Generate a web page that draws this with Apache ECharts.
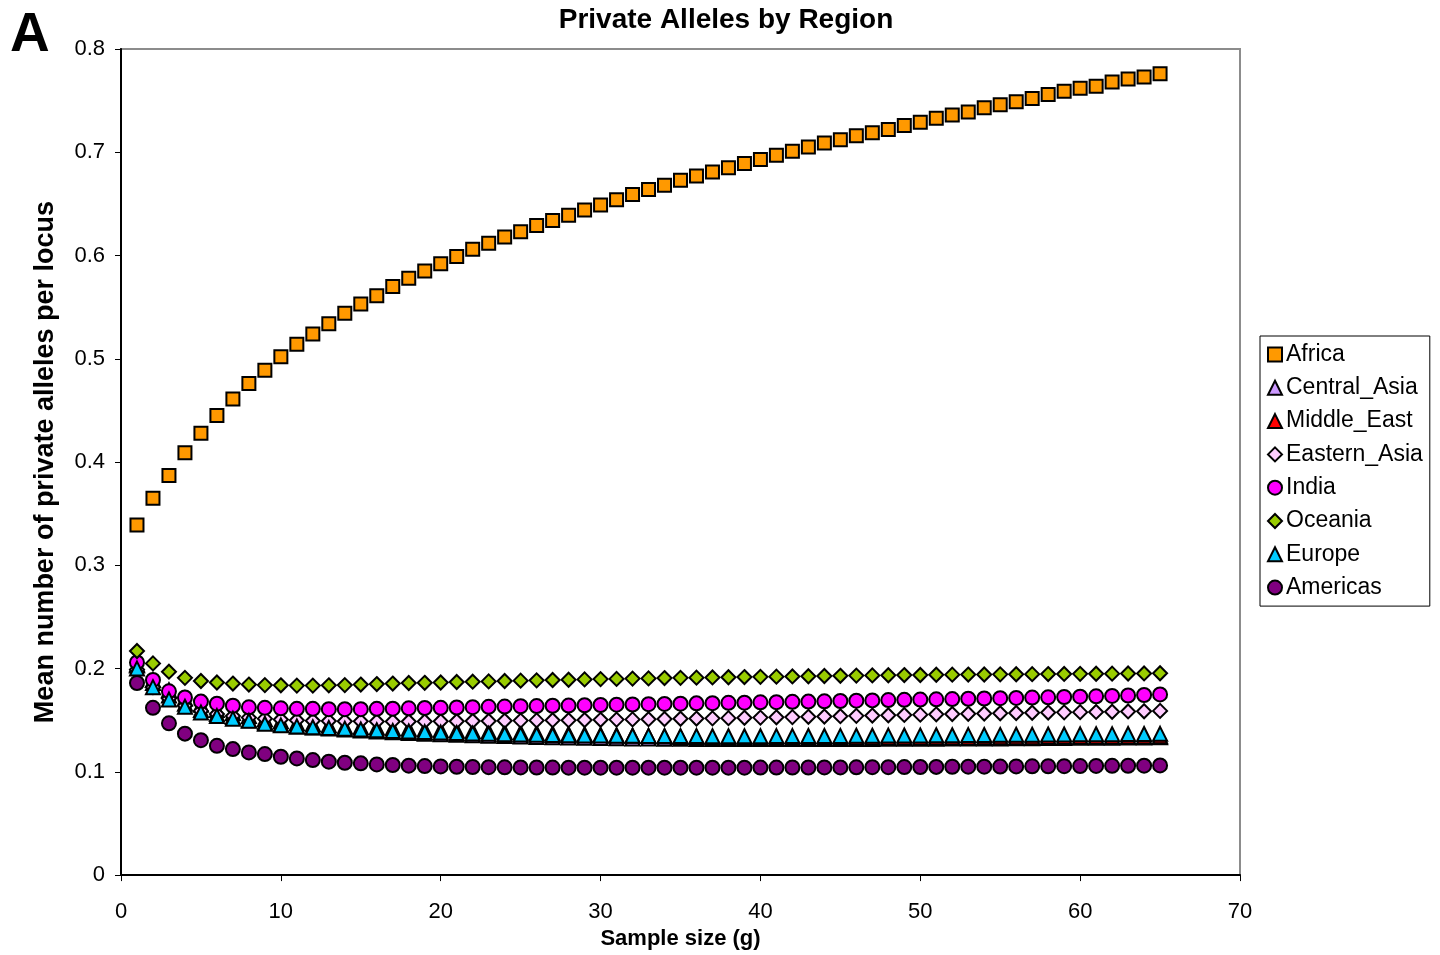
<!DOCTYPE html>
<html>
<head>
<meta charset="utf-8">
<script src="https://cdn.jsdelivr.net/npm/echarts@6/dist/echarts.min.js"></script>
<style>
html,body{margin:0;padding:0;background:#fff;}
#chart{width:1440px;height:955px;}
</style>
</head>
<body>
<div id="chart"></div>
<script>
const sampleSizes = [1,2,3,4,5,6,7,8,9,10,11,12,13,14,15,16,17,18,19,20,21,22,23,24,25,26,27,28,29,30,31,32,33,34,35,36,37,38,39,40,41,42,43,44,45,46,47,48,49,50,51,52,53,54,55,56,57,58,59,60,61,62,63,64,65];

const africa = [0.339,0.365,0.387,0.409,0.428,0.445,0.461,0.476,0.489,0.502,0.514,0.524,0.534,0.544,0.553,0.561,0.570,0.578,0.585,0.592,0.599,0.606,0.612,0.618,0.623,0.629,0.634,0.639,0.644,0.649,0.654,0.659,0.664,0.668,0.673,0.677,0.681,0.685,0.689,0.693,0.697,0.701,0.705,0.709,0.712,0.716,0.719,0.722,0.726,0.729,0.733,0.736,0.739,0.743,0.746,0.749,0.752,0.756,0.759,0.762,0.764,0.768,0.771,0.773,0.776];

const centralAsia = [0.203,0.186,0.174,0.166,0.160,0.156,0.153,0.150,0.148,0.146,0.144,0.143,0.142,0.141,0.140,0.139,0.1383,0.1376,0.137,0.1365,0.136,0.1355,0.135,0.1346,0.1342,0.1338,0.1335,0.1332,0.133,0.1328,0.1326,0.1324,0.1322,0.1321,0.132,0.1319,0.1318,0.1318,0.1318,0.1318,0.1318,0.1318,0.1318,0.1318,0.1318,0.1319,0.1319,0.132,0.132,0.132,0.1321,0.1322,0.1322,0.1323,0.1324,0.1325,0.1326,0.1327,0.1328,0.1329,0.133,0.1331,0.1332,0.1333,0.1334];

const middleEast = [0.204,0.189,0.179,0.171,0.165,0.160,0.157,0.154,0.151,0.149,0.147,0.146,0.145,0.144,0.1435,0.143,0.1423,0.1417,0.141,0.1405,0.140,0.1395,0.139,0.1385,0.138,0.1376,0.1372,0.1368,0.1364,0.136,0.1355,0.135,0.1346,0.1342,0.1338,0.1335,0.1333,0.1331,0.133,0.1329,0.1328,0.1328,0.1328,0.1328,0.1329,0.1329,0.133,0.133,0.1331,0.1331,0.1332,0.1332,0.1333,0.1334,0.1335,0.1335,0.1336,0.1337,0.1338,0.1339,0.134,0.1341,0.1342,0.1343,0.1344];

const easternAsia = [0.199,0.182,0.171,0.164,0.159,0.156,0.154,0.1525,0.1515,0.1507,0.150,0.1495,0.1492,0.149,0.149,0.1488,0.1488,0.1488,0.1488,0.149,0.149,0.1492,0.1493,0.1495,0.1496,0.1498,0.150,0.150,0.1502,0.1504,0.1506,0.1508,0.151,0.1512,0.1514,0.1516,0.1518,0.152,0.1523,0.1525,0.1528,0.153,0.1533,0.1536,0.1539,0.1542,0.1545,0.1548,0.1551,0.1554,0.1557,0.156,0.1562,0.1565,0.1567,0.157,0.1572,0.1574,0.1576,0.1578,0.158,0.1582,0.1585,0.1587,0.159];

const india = [0.206,0.189,0.178,0.172,0.168,0.166,0.164,0.1625,0.162,0.1615,0.161,0.161,0.1607,0.1607,0.1607,0.161,0.1612,0.1615,0.1618,0.162,0.1623,0.1626,0.163,0.1632,0.1635,0.1637,0.164,0.1642,0.1645,0.1647,0.165,0.1652,0.1655,0.1658,0.166,0.1663,0.1665,0.1668,0.167,0.1673,0.1675,0.1678,0.168,0.1683,0.1686,0.1689,0.1692,0.1695,0.1697,0.170,0.1702,0.1705,0.1708,0.171,0.1713,0.1716,0.1719,0.1722,0.1725,0.1728,0.1731,0.1735,0.1739,0.1744,0.175];

const oceania = [0.217,0.205,0.197,0.191,0.188,0.1865,0.1855,0.1845,0.184,0.1838,0.1835,0.1835,0.1838,0.184,0.1845,0.185,0.1855,0.186,0.1862,0.1865,0.187,0.1873,0.1876,0.188,0.1883,0.1886,0.1889,0.1892,0.1895,0.1898,0.190,0.1903,0.1905,0.1908,0.191,0.1912,0.1914,0.1916,0.1918,0.192,0.1922,0.1924,0.1926,0.1928,0.193,0.1932,0.1934,0.1935,0.1937,0.1938,0.194,0.1941,0.1942,0.1943,0.1944,0.1945,0.1946,0.1947,0.1948,0.1949,0.195,0.1951,0.1952,0.1953,0.1955];

const europe = [0.200,0.182,0.170,0.163,0.1575,0.154,0.1515,0.1495,0.1465,0.145,0.144,0.1432,0.1425,0.1418,0.141,0.1403,0.1395,0.139,0.1385,0.138,0.1376,0.1372,0.1368,0.1365,0.1362,0.136,0.1357,0.1355,0.1353,0.1352,0.135,0.1349,0.1348,0.1347,0.1346,0.1346,0.1345,0.1345,0.1345,0.1345,0.1346,0.1346,0.1347,0.1347,0.1348,0.1349,0.135,0.1351,0.1352,0.1353,0.1354,0.1355,0.1356,0.1357,0.1358,0.1359,0.136,0.1361,0.1362,0.1363,0.1364,0.1365,0.1366,0.1367,0.1368];

const americas = [0.186,0.162,0.147,0.137,0.1307,0.1252,0.122,0.1188,0.1172,0.1146,0.113,0.1114,0.1098,0.1088,0.1082,0.1072,0.1066,0.106,0.1056,0.1052,0.1049,0.1047,0.1045,0.1044,0.1043,0.1042,0.1041,0.104,0.104,0.104,0.104,0.104,0.104,0.104,0.104,0.104,0.104,0.104,0.104,0.1041,0.1041,0.1042,0.1042,0.1043,0.1043,0.1044,0.1045,0.1045,0.1046,0.1047,0.1048,0.1049,0.105,0.105,0.1051,0.1052,0.1053,0.1054,0.1055,0.1056,0.1057,0.1058,0.1059,0.106,0.1062];

const yTicks = {min: 0, max: 0.8, interval: 0.1};
const xTicks = {min: 0, max: 70, interval: 10};

const seriesDefs = [
  {name: 'Africa', data: africa, symbol: 'rect', color: '#FF9900', size: 13},
  {name: 'Central_Asia', data: centralAsia, symbol: 'triangle', color: '#CC99FF', size: 14},
  {name: 'Middle_East', data: middleEast, symbol: 'triangle', color: '#FF0000', size: 14},
  {name: 'Eastern_Asia', data: easternAsia, symbol: 'diamond', color: '#FFCCFF', size: 14},
  {name: 'India', data: india, symbol: 'circle', color: '#FF00FF', size: 14},
  {name: 'Oceania', data: oceania, symbol: 'diamond', color: '#99CC00', size: 14},
  {name: 'Europe', data: europe, symbol: 'triangle', color: '#00CCFF', size: 14},
  {name: 'Americas', data: americas, symbol: 'circle', color: '#800080', size: 14}
];

const FONT = '"Liberation Sans", Arial, sans-serif';
const chart = echarts.init(document.getElementById('chart'), null, {renderer: 'canvas'});

chart.setOption({
  backgroundColor: '#ffffff',
  animation: false,
  title: [
    {text: 'Private Alleles by Region', left: 721, textAlign: 'center', top: 1,
     textStyle: {fontFamily: FONT, fontSize: 28, fontWeight: 'bold', color: '#000'}},
    {text: 'A', left: 5, top: 3,
     textStyle: {fontFamily: FONT, fontSize: 55, fontWeight: 'bold', color: '#000'}}
  ],
  grid: {left: 121, top: 49, right: 200, bottom: 78, show: true, borderColor: '#8c8c8c', borderWidth: 2, backgroundColor: 'transparent'},
  legend: {
    orient: 'vertical', left: 1260, top: 336,
    padding: [7, 7, 7, 7],
    itemWidth: 14, itemHeight: 14, itemGap: 10.3,
    borderColor: '#000', borderWidth: 1,
    textStyle: {fontFamily: FONT, fontSize: 23, color: '#000', lineHeight: 23, padding: [0, 0, 0, -1]},
    data: seriesDefs.map(s => ({name: s.name, icon: s.symbol}))
  },
  xAxis: {
    type: 'value', min: xTicks.min, max: xTicks.max, interval: xTicks.interval,
    name: 'Sample size (g)', nameLocation: 'middle', nameGap: 51,
    nameTextStyle: {fontFamily: FONT, fontSize: 22, fontWeight: 'bold', color: '#000'},
    axisLine: {show: true, onZero: false, lineStyle: {color: '#000', width: 2}},
    axisTick: {show: true, inside: false, length: 6, lineStyle: {color: '#000', width: 1}},
    axisLabel: {fontFamily: FONT, fontSize: 22, color: '#000', margin: 26},
    splitLine: {show: false}
  },
  yAxis: {
    type: 'value', min: yTicks.min, max: yTicks.max, interval: yTicks.interval,
    name: 'Mean number of private alleles per locus', nameLocation: 'middle', nameGap: 62,
    nameTextStyle: {fontFamily: FONT, fontSize: 27, fontWeight: 'bold', color: '#000'},
    axisLine: {show: true, onZero: false, lineStyle: {color: '#000', width: 2}},
    axisTick: {show: true, inside: false, length: 6, lineStyle: {color: '#000', width: 1}},
    axisLabel: {fontFamily: FONT, fontSize: 22, color: '#000', margin: 16,
      formatter: v => (v === 0 ? '0' : v.toFixed(1))},
    splitLine: {show: false}
  },
  series: seriesDefs.map(s => ({
    name: s.name,
    type: 'scatter',
    symbol: s.symbol,
    symbolSize: s.size,
    data: sampleSizes.map((x, i) => [x, s.data[i]]),
    itemStyle: {color: s.color, borderColor: '#000', borderWidth: 2, opacity: 1},
    emphasis: {disabled: true}
  }))
});
</script>
</body>
</html>
